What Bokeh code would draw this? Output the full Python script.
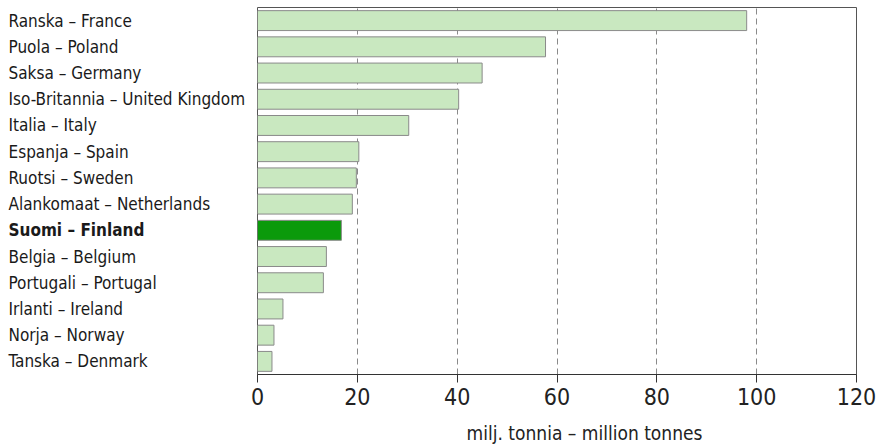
from bokeh.plotting import figure
from bokeh.layouts import row, column
from bokeh.models import ColumnDataSource, FactorRange, FixedTicker
from bokeh.core.properties import value
from bokeh.embed import file_html
from bokeh.resources import INLINE

# Country labels (Finnish – English), top to bottom
countries = [
    "Ranska – France",
    "Puola – Poland",
    "Saksa – Germany",
    "Iso-Britannia – United Kingdom",
    "Italia – Italy",
    "Espanja – Spain",
    "Ruotsi – Sweden",
    "Alankomaat – Netherlands",
    "Suomi – Finland",
    "Belgia – Belgium",
    "Portugali – Portugal",
    "Irlanti – Ireland",
    "Norja – Norway",
    "Tanska – Denmark",
]
# Million tonnes
values = [98.0, 57.7, 45.0, 40.3, 30.3, 20.3, 19.8, 19.0, 16.8, 13.8, 13.2, 5.1, 3.3, 2.9]
highlight = "Suomi – Finland"
x_ticks = [0, 20, 40, 60, 80, 100, 120]
x_title = "milj. tonnia – million tonnes"

FONT = "DejaVu Sans Condensed"
LIGHT = "#c9e8c0"
DARK = "#0b9a0b"

colors = [DARK if c == highlight else LIGHT for c in countries]
styles = ["bold" if c == highlight else "normal" for c in countries]
source = ColumnDataSource(dict(country=countries, value=values, color=colors,
                               style=styles, lx=[8] * len(countries)))

y_range = FactorRange(*reversed(countries), range_padding=0)
W = 876
CHART_H = 412
TOP, BOTTOM = 7, CHART_H - 374
NAMES_W = 249
TITLE_H = 444 - CHART_H

# Left panel: left-aligned country names sharing the bar chart's category range
names = figure(
    width=NAMES_W, height=CHART_H, x_range=(0, NAMES_W), y_range=y_range,
    output_backend="svg", toolbar_location=None,
    min_border_left=0, min_border_right=0, min_border_top=TOP, min_border_bottom=BOTTOM,
)
names.text(x="lx", y="country", text="country", source=source,
           text_font=value(FONT), text_font_size="17px", text_font_style="style",
           text_color="#1a1a1a", text_align="left", text_baseline="middle")
names.axis.visible = False
names.grid.visible = False
names.outline_line_color = None

# Right panel: the bars
p = figure(
    width=W - NAMES_W, height=CHART_H, x_range=(0, 120), y_range=y_range,
    output_backend="svg", toolbar_location=None,
    min_border_left=8, min_border_right=20, min_border_top=TOP, min_border_bottom=BOTTOM,
)
p.hbar(y="country", right="value", height=0.76, source=source,
       fill_color="color", line_color="#8a8a8a", line_width=1)

p.yaxis.visible = False
p.ygrid.grid_line_color = None
p.xgrid.grid_line_color = "#8a8a8a"
p.xgrid.grid_line_dash = "6 4"
p.xgrid.ticker = FixedTicker(ticks=[20, 40, 60, 80, 100])
p.outline_line_color = "#555555"
p.outline_line_width = 1

xa = p.xaxis[0]
xa.ticker = FixedTicker(ticks=x_ticks)
xa.axis_line_color = "#333333"
xa.major_tick_line_color = "#333333"
xa.major_tick_in = 0
xa.major_tick_out = 8
xa.minor_tick_line_color = None
xa.major_label_text_font = FONT
xa.major_label_text_font_size = "23px"
xa.major_label_text_color = "#222222"
xa.major_label_standoff = 5

# Bottom strip: the x-axis title, set in pixel coordinates
title_src = ColumnDataSource(dict(x=[584], y=[11.5], text=[x_title]))
tfig = figure(
    width=W, height=TITLE_H, x_range=(0, W), y_range=(0, TITLE_H),
    output_backend="svg", toolbar_location=None, min_border=0,
)
tfig.text(x="x", y="y", text="text", source=title_src,
          text_font=value(FONT), text_font_size="19px", text_color="#222222",
          text_align="center", text_baseline="middle")
tfig.axis.visible = False
tfig.grid.visible = False
tfig.outline_line_color = None

layout = column(row(names, p, spacing=0), tfig, spacing=0)
open("out.html", "w").write(file_html(layout, INLINE))
